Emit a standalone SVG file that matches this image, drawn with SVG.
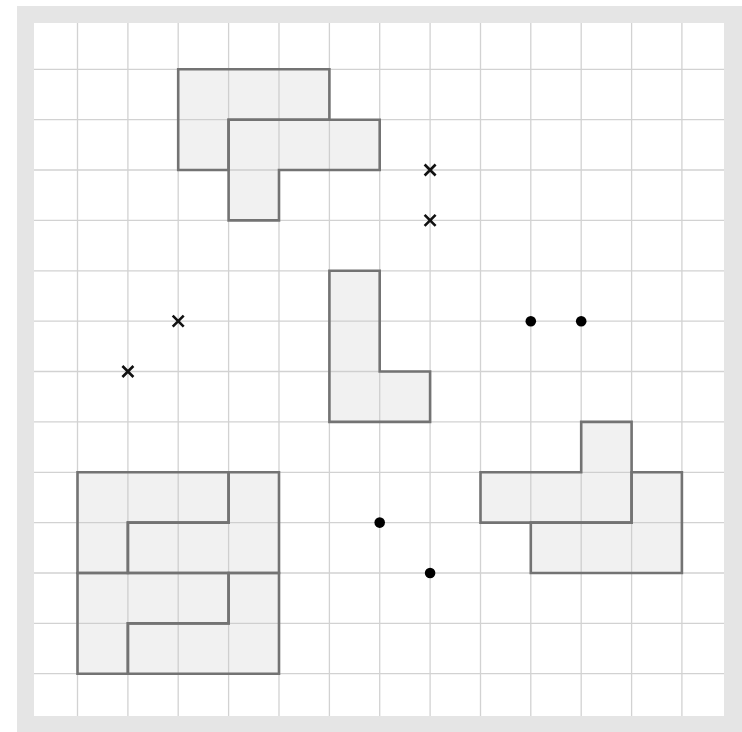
<svg xmlns="http://www.w3.org/2000/svg" xmlns:xlink="http://www.w3.org/1999/xlink" width="742" height="732" viewBox="0 0 742 732">
<style>
.grid line{stroke:#d2d2d2;stroke-width:1.3}
.piece{fill:#c8c8c8;fill-opacity:0.25;stroke:#737373;stroke-width:2.6;stroke-linejoin:miter}
.cross{stroke:#111;stroke-width:2.6;fill:none}
.dot{fill:#000}
</style>
<defs>
<path id="x" d="M-5.5,-5.5 L5.5,5.5 M5.5,-5.5 L-5.5,5.5"/>
</defs>
<rect x="0" y="0" width="742" height="732" fill="#fff"/>
<rect x="17" y="6" width="725" height="726" fill="#e5e5e5"/>
<rect x="34" y="23" width="690" height="693" fill="#fff"/>
<g id="grid" class="grid">
<line x1="77.5" y1="23" x2="77.5" y2="716"/>
<line x1="127.9" y1="23" x2="127.9" y2="716"/>
<line x1="178.2" y1="23" x2="178.2" y2="716"/>
<line x1="228.6" y1="23" x2="228.6" y2="716"/>
<line x1="279" y1="23" x2="279" y2="716"/>
<line x1="329.4" y1="23" x2="329.4" y2="716"/>
<line x1="379.7" y1="23" x2="379.7" y2="716"/>
<line x1="430.1" y1="23" x2="430.1" y2="716"/>
<line x1="480.5" y1="23" x2="480.5" y2="716"/>
<line x1="530.8" y1="23" x2="530.8" y2="716"/>
<line x1="581.2" y1="23" x2="581.2" y2="716"/>
<line x1="631.6" y1="23" x2="631.6" y2="716"/>
<line x1="681.9" y1="23" x2="681.9" y2="716"/>
<line x1="34" y1="69.3" x2="724" y2="69.3"/>
<line x1="34" y1="119.7" x2="724" y2="119.7"/>
<line x1="34" y1="170" x2="724" y2="170"/>
<line x1="34" y1="220.4" x2="724" y2="220.4"/>
<line x1="34" y1="270.8" x2="724" y2="270.8"/>
<line x1="34" y1="321.2" x2="724" y2="321.2"/>
<line x1="34" y1="371.5" x2="724" y2="371.5"/>
<line x1="34" y1="421.9" x2="724" y2="421.9"/>
<line x1="34" y1="472.3" x2="724" y2="472.3"/>
<line x1="34" y1="522.6" x2="724" y2="522.6"/>
<line x1="34" y1="573" x2="724" y2="573"/>
<line x1="34" y1="623.4" x2="724" y2="623.4"/>
<line x1="34" y1="673.7" x2="724" y2="673.7"/>
</g>
<g id="pieces">
<polygon id="pieceA" class="piece" points="178.2,69.3 329.4,69.3 329.4,119.7 228.6,119.7 228.6,170 178.2,170"/>
<polygon id="pieceB" class="piece" points="228.6,119.7 379.7,119.7 379.7,170 279,170 279,220.4 228.6,220.4"/>
<polygon id="pieceL" class="piece" points="329.4,270.8 379.7,270.8 379.7,371.5 430.1,371.5 430.1,421.9 329.4,421.9"/>
<polygon id="piece1" class="piece" points="77.5,472.3 228.6,472.3 228.6,522.6 127.9,522.6 127.9,573 77.5,573"/>
<polygon id="piece2" class="piece" points="228.6,472.3 279,472.3 279,573 127.9,573 127.9,522.6 228.6,522.6"/>
<polygon id="piece3" class="piece" points="77.5,573 228.6,573 228.6,623.4 127.9,623.4 127.9,673.7 77.5,673.7"/>
<polygon id="piece4" class="piece" points="228.6,573 279,573 279,673.7 127.9,673.7 127.9,623.4 228.6,623.4"/>
<polygon id="pieceC" class="piece" points="581.2,421.9 631.6,421.9 631.6,522.6 480.5,522.6 480.5,472.3 581.2,472.3"/>
<polygon id="pieceD" class="piece" points="631.6,472.3 681.9,472.3 681.9,573 530.8,573 530.8,522.6 631.6,522.6"/>
</g>
<g id="crosses" class="cross">
<use xlink:href="#x" href="#x" x="430.1" y="170"/>
<use xlink:href="#x" href="#x" x="430.1" y="220.4"/>
<use xlink:href="#x" href="#x" x="178.2" y="321.2"/>
<use xlink:href="#x" href="#x" x="127.9" y="371.5"/>
</g>
<g id="dots" class="dot">
<circle cx="530.8" cy="321.2" r="5.3"/>
<circle cx="581.2" cy="321.2" r="5.3"/>
<circle cx="379.7" cy="522.6" r="5.3"/>
<circle cx="430.1" cy="573" r="5.3"/>
</g>
</svg>
